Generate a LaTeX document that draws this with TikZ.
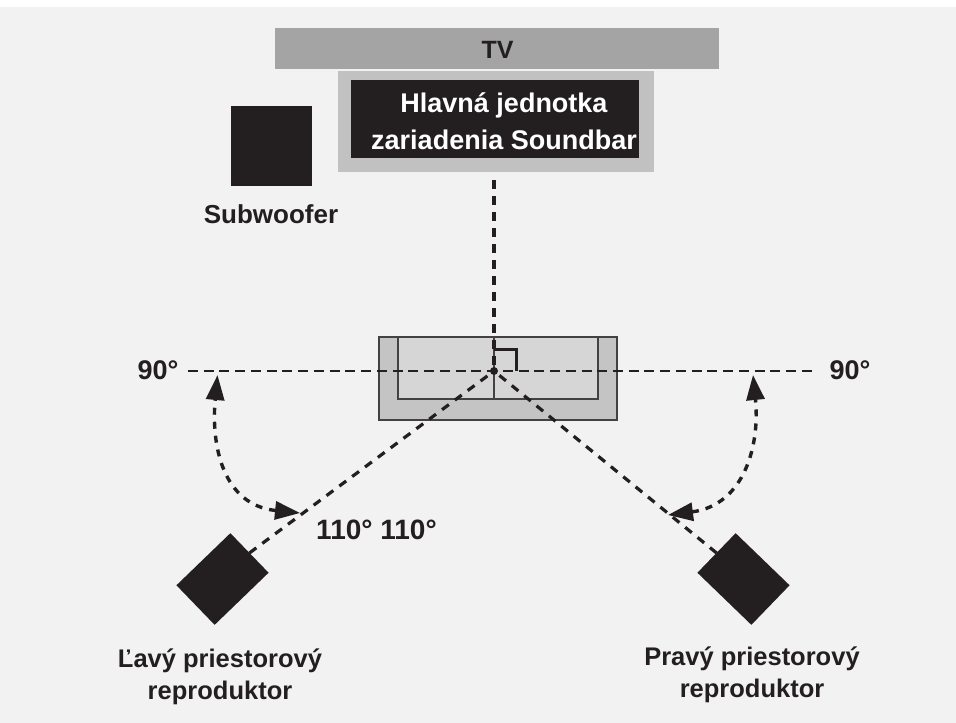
\documentclass[tikz,border=0pt]{standalone}
\usepackage{fontspec}
\setmainfont{Liberation Sans}
\usetikzlibrary{arrows.meta}
\definecolor{bggray}{HTML}{F2F2F2}
\definecolor{tvgray}{HTML}{A5A4A5}
\definecolor{bargray}{HTML}{C2C1C2}
\definecolor{sofagray}{HTML}{C4C4C4}
\definecolor{seatgray}{HTML}{D6D6D6}
\definecolor{inkblack}{HTML}{231F20}
\begin{document}
\begin{tikzpicture}[x=1pt, y=-1pt, every node/.style = {inner sep=0pt, outer sep=0pt},
    caption/.style = {font=\fontsize{#1}{32}\selectfont\bfseries, text=inkblack, align=center},
    solid/.style = {fill=inkblack, minimum width=75pt, minimum height=55pt},
    wall/.style = {draw=inkblack!85, line width=2pt},
    midline/.style = {dash pattern=on 10pt off 5.74pt, line width=2pt, draw=inkblack},
    dotline/.style = {dash pattern=on 8.5pt off 7.5pt, line width=3.2pt, draw=inkblack},
    sweep/.style = {{Triangle[length=25pt,width=18pt]}-{Triangle[length=25pt,width=18pt]}, dash pattern=on 7pt off 7pt, line width=3.4pt, draw=inkblack}]
    \useasboundingbox (0,0) rectangle (956,723);
    \fill[white] (0,0) rectangle (956,723);
    \fill[bggray] (0,7) rectangle (956,723);

    \node[fill=tvgray, minimum width=444pt, minimum height=41pt] (tv) at (497,48.5) {};
    \node[caption=25] (tvtext) at (497.5,50) {TV};
    \node[fill=bargray, minimum width=316pt, minimum height=101pt] (bar) at (496,121.5) {};
    \node[fill=inkblack, minimum width=288pt, minimum height=78pt] (main) at (495,119) {};
    \node[caption=27, text=white, align=center] (maintext) at (504,121.5) {Hlavná jednotka\\[5pt]zariadenia Soundbar};
    \node[fill=inkblack, minimum width=81pt, minimum height=80pt] (sub) at (271.5,146) {};
    \node[caption=26] (subtext) at (271,214) {Subwoofer};

    \draw[wall, fill=sofagray] (379,337) rectangle (617,420);
    \draw[wall, fill=seatgray] (398,337) rectangle (598,399);
    \coordinate (head) at (494,371);
    \coordinate (back) at (494,337);
    \coordinate (front) at (494,399);
    \coordinate (top) at (494,180);
    \coordinate (west) at (188,371);
    \coordinate (east) at (812,371);
    \coordinate (cornera) at (494,349);
    \coordinate (cornerb) at (516,349);
    \coordinate (cornerc) at (516,371);
    \draw[wall] (back) -- (front);
    \draw[draw=inkblack, line width=3pt] (cornera) -- (cornerb) -- (cornerc);

    \node[solid, rotate=44] (left) at (222.5,579) {};
    \node[solid, rotate=-44] (right) at (743.5,579) {};

    \draw[midline] (west) -- (east);
    \draw[dotline] (top) -- (head);
    \draw[dotline] (left.east) -- (head);
    \draw[dotline] (right.west) -- (head);
    \fill[inkblack] (head) circle (4pt);

    \coordinate (la) at (217.5,375);
    \coordinate (lb) at (300,513);
    \coordinate (ra) at (753,375);
    \coordinate (rb) at (668,515);
    \draw[sweep] (lb) .. controls (222,505) and (211,444) .. (la);
    \draw[sweep] (rb) .. controls (745,505) and (760,444) .. (ra);

    \node[caption=27] (westtext) at (158,370) {90°};
    \node[caption=27] (easttext) at (850,370) {90°};
    \node[caption=28] (angles) at (376.5,530) {110° 110°};
    \node[caption=25.5] (lefttext) at (220,676.5) {Ľavý priestorový\\reproduktor};
    \node[caption=25.5] (righttext) at (752,675) {Pravý priestorový\\reproduktor};
\end{tikzpicture}
\end{document}
